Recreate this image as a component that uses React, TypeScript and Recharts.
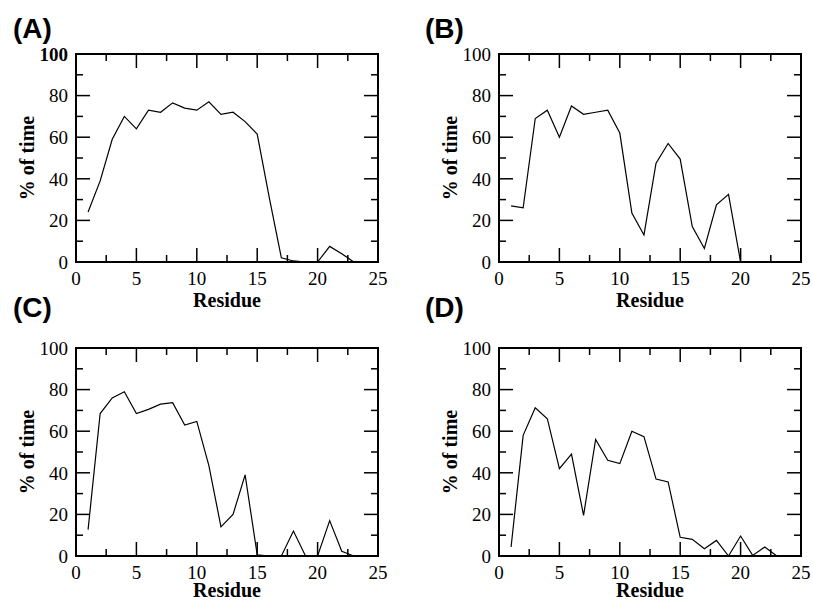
import { Line, LineChart, ReferenceArea, XAxis, YAxis } from "recharts";

// residue index per panel
const residuesA = [1, 2, 3, 4, 5, 6, 7, 8, 9, 10, 11, 12, 13, 14, 15, 16, 17, 18, 19, 20, 21, 22, 23];
const residuesB = [1, 2, 3, 4, 5, 6, 7, 8, 9, 10, 11, 12, 13, 14, 15, 16, 17, 18, 19, 20];
const residuesC = [1, 2, 3, 4, 5, 6, 7, 8, 9, 10, 11, 12, 13, 14, 15, 16, 17, 18, 19, 20, 21, 22, 23];
const residuesD = [1, 2, 3, 4, 5, 6, 7, 8, 9, 10, 11, 12, 13, 14, 15, 16, 17, 18, 19, 20, 21, 22, 23];

// % of time
const timeA = [24, 39, 59, 70, 64, 73, 72, 76.5, 74, 73, 77, 71, 72, 67.5, 61.5, 31, 2, 0.5, 0, 0, 7.5, 4, 0];
const timeB = [27, 26, 69, 73, 60, 75, 71, 72, 73, 62, 23.5, 13, 47.5, 57, 49.5, 17, 6.5, 27.5, 32.5, 0];
const timeC = [12.7, 68.5, 76, 79, 68.5, 70.5, 73, 73.7, 63, 64.7, 43.5, 14, 20, 39, 0.6, 0, 0, 12, 0, 0, 17, 2.3, 0];
const timeD = [4.3, 58, 71.3, 66, 42, 49, 19.5, 56, 46, 44.4, 60, 57.4, 37, 35.6, 9, 8, 3.5, 7.5, 0, 9.6, 0.3, 4.3, 0];

const xMajorTicks = [0, 5, 10, 15, 20, 25];
const xMinorTicks = [2.5, 7.5, 12.5, 17.5, 22.5];
const yMajorTicks = [0, 20, 40, 60, 80, 100];
const yMinorTicks = [10, 30, 50, 70, 90];

const xAllTicks = [...xMajorTicks, ...xMinorTicks].sort((a, b) => a - b);
const yAllTicks = [...yMajorTicks, ...yMinorTicks].sort((a, b) => a - b);

const SERIF = "Liberation Serif";
const SANS = "Liberation Sans";

const CHART_W = 406;
const PLOT_W = 302;
const PLOT_H = 208;
const X_AXIS_H = 30;
const Y_AXIS_W = 60;
const X_GAP = 9.5; // axis line -> top of x tick labels
const Y_GAP = 8; // axis line -> right edge of y tick labels
const MAJOR_LEN = 14;
const MINOR_LEN = 7;

type PanelProps = {
	tag: string;
	residues: number[];
	values: number[];
	left: number;
	top: number;
	height: number;
	plotLeft: number;
	plotTop: number;
	titleGap: number;
	tagLeft: number;
	tagTop: number;
	boldTop?: boolean;
};

function Panel({ tag, residues, values, left, top, height, plotLeft, plotTop, titleGap, tagLeft, tagTop, boldTop }: PanelProps) {
	const data = residues.map((r, i) => ({ residue: r, pct: values[i] }));
	const margin = {
		top: plotTop,
		left: plotLeft - Y_AXIS_W,
		right: CHART_W - plotLeft - PLOT_W,
		bottom: height - plotTop - PLOT_H - X_AXIS_H,
	};

	// x ticks: inward marks on bottom and top edges, label for majors
	const xTick = (p: any) => {
		const v = p.payload.value;
		const major = xMajorTicks.includes(v);
		const len = major ? MAJOR_LEN : MINOR_LEN;
		const base = p.y - X_GAP;
		const topEdge = base - PLOT_H;
		return (
			<g>
				<line x1={p.x} x2={p.x} y1={base} y2={base - len} stroke="#000" strokeWidth={1.5} />
				<line x1={p.x} x2={p.x} y1={topEdge} y2={topEdge + len} stroke="#000" strokeWidth={1.5} />
				{major && (
					<text x={p.x} y={p.y} dy="0.71em" textAnchor="middle" fontFamily={SERIF} fontSize={19} fill="#000">
						{v}
					</text>
				)}
			</g>
		);
	};

	// y ticks: inward marks on left and right edges, label for majors
	const yTick = (p: any) => {
		const v = p.payload.value;
		const major = yMajorTicks.includes(v);
		const len = major ? MAJOR_LEN : MINOR_LEN;
		const base = p.x + Y_GAP;
		const rightEdge = base + PLOT_W;
		return (
			<g>
				<line x1={base} x2={base + len} y1={p.y} y2={p.y} stroke="#000" strokeWidth={1.5} />
				<line x1={rightEdge} x2={rightEdge - len} y1={p.y} y2={p.y} stroke="#000" strokeWidth={1.5} />
				{major && (
					<text
						x={p.x}
						y={p.y}
						dy="0.355em"
						textAnchor="end"
						fontFamily={SERIF}
						fontSize={19}
						fontWeight={boldTop && v === 100 ? "bold" : "normal"}
						fill="#000"
					>
						{v}
					</text>
				)}
			</g>
		);
	};

	const yLabel = (p: any) => {
		const { x, y, width, height: h } = p.viewBox;
		const cx = x + width - 49;
		const cy = y + h / 2;
		return (
			<text
				x={cx}
				y={cy}
				transform={`rotate(-90 ${cx} ${cy})`}
				textAnchor="middle"
				dominantBaseline="central"
				fontFamily={SERIF}
				fontWeight="bold"
				fontSize={20}
				fill="#000"
			>
				% of time
			</text>
		);
	};

	const xLabel = (p: any) => {
		const { x, y, width } = p.viewBox;
		return (
			<text
				x={x + width / 2}
				y={y + titleGap}
				textAnchor="middle"
				fontFamily={SERIF}
				fontWeight="bold"
				fontSize={20}
				fill="#000"
			>
				Residue
			</text>
		);
	};

	return (
		<div style={{ position: "absolute", left, top }}>
			<LineChart width={CHART_W} height={height} data={data} margin={margin}>
				<XAxis
					dataKey="residue"
					type="number"
					domain={[0, 25]}
					ticks={xAllTicks}
					interval={0}
					height={X_AXIS_H}
					tickSize={0}
					tickMargin={X_GAP}
					tickLine={false}
					axisLine={false}
					tick={xTick}
					label={xLabel}
				/>
				<YAxis
					type="number"
					domain={[0, 100]}
					ticks={yAllTicks}
					interval={0}
					width={Y_AXIS_W}
					tickSize={0}
					tickMargin={Y_GAP}
					tickLine={false}
					axisLine={false}
					tick={yTick}
					label={yLabel}
				/>
				{/* plot frame */}
				<ReferenceArea x1={0} x2={25} y1={0} y2={100} fill="none" stroke="#000" strokeWidth={2} ifOverflow="visible" />
				<Line
					type="linear"
					dataKey="pct"
					stroke="#000"
					strokeWidth={1.2}
					dot={false}
					isAnimationActive={false}
				/>
			</LineChart>
			<div
				style={{
					position: "absolute",
					left: tagLeft,
					top: tagTop,
					fontFamily: SANS,
					fontWeight: "bold",
					fontSize: 28,
					lineHeight: "28px",
					color: "#000",
				}}
			>
				{tag}
			</div>
		</div>
	);
}

export default function App() {
	return (
		<div style={{ position: "absolute", left: 0, top: 0, width: 813, height: 600, background: "#fff", overflow: "hidden" }}>
			<Panel tag="(A)" residues={residuesA} values={timeA} left={0} top={0} height={312} plotLeft={76} plotTop={54}
				titleGap={45} tagLeft={13} tagTop={15} boldTop />
			<Panel tag="(B)" residues={residuesB} values={timeB} left={406} top={0} height={312} plotLeft={93} plotTop={54}
				titleGap={45} tagLeft={19} tagTop={15} />
			<Panel tag="(C)" residues={residuesC} values={timeC} left={0} top={300} height={300} plotLeft={76} plotTop={48}
				titleGap={41} tagLeft={13} tagTop={-6} />
			<Panel tag="(D)" residues={residuesD} values={timeD} left={406} top={300} height={300} plotLeft={93} plotTop={48}
				titleGap={41} tagLeft={19} tagTop={-6} />
		</div>
	);
}
